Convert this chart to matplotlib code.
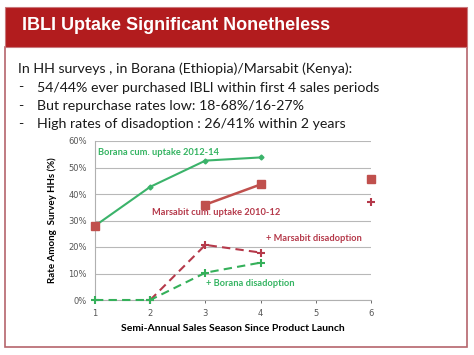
import matplotlib
matplotlib.use("Agg")
import matplotlib.pyplot as plt
import numpy as np
from matplotlib.patches import Rectangle
from matplotlib.ticker import PercentFormatter

# ---- data ----
seasons = [1, 2, 3, 4, 5, 6]
borana_uptake_x = [1, 2, 3, 4]
borana_uptake = [28, 42.7, 52.6, 53.8]
marsabit_uptake_x = [3, 4]
marsabit_uptake = [36, 43.6]
marsabit_extra_x = [1, 6]
marsabit_extra = [28, 45.8]
marsabit_dis_x = [2, 3, 4]
marsabit_dis = [0, 20.8, 17.9]
marsabit_dis_extra_x = [6]
marsabit_dis_extra = [37]
borana_dis_x = [1, 2, 3, 4]
borana_dis = [0, 0, 10.3, 14.1]
yticks = [0, 10, 20, 30, 40, 50, 60]

title = "IBLI Uptake Significant Nonetheless"
bullets = [
    "In HH surveys , in Borana (Ethiopia)/Marsabit (Kenya):",
    "54/44% ever purchased IBLI within first 4 sales periods",
    "But repurchase rates low: 18-68%/16-27%",
    "High rates of disadoption : 26/41% within 2 years",
]

W, H = 474, 355
fig = plt.figure(figsize=(W / 100, H / 100), dpi=100)
bg = fig.add_axes([0, 0, 1, 1])
bg.set_xlim(0, W)
bg.set_ylim(H, 0)
bg.axis("off")

red_bar = "#b21c1e"
border = "#b5656c"
bg.add_patch(Rectangle((5, 47), 462, 300, facecolor="white", edgecolor=border, lw=1.2))
bg.add_patch(Rectangle((5, 7), 462, 40, facecolor=red_bar, edgecolor="#c9787c", lw=0.8))
bg.text(22, 26, title, color="white", fontsize=13, fontweight="bold",
        family="Liberation Sans", va="center", ha="left")

text_font = "Lato"
tc = "#1a1a1a"
bg.text(18, 69, bullets[0], fontsize=10.2, family=text_font, va="center", color=tc)
for i, b in enumerate(bullets[1:]):
    y = 87.5 + i * 18.3
    bg.text(18, y, "-", fontsize=10.2, family=text_font, va="center", color=tc)
    bg.text(37, y, b, fontsize=10.2, family=text_font, va="center", color=tc)

# ---- chart ----
ax = fig.add_axes([95 / W, 55 / H, 276 / W, 159 / H])
green = "#3bb36a"
green_txt = "#35b462"
red = "#c0504d"
dred = "#b5394a"

ax.plot(borana_uptake_x, borana_uptake, color=green, lw=1.5, marker="D", ms=2.5, zorder=3,
        clip_on=False)
ax.plot(marsabit_uptake_x, marsabit_uptake, color=red, lw=1.8, marker="s", ms=5.5, zorder=3)
ax.plot(marsabit_extra_x, marsabit_extra, color=red, lw=0, marker="s", ms=5.5, zorder=4,
        clip_on=False)
ax.plot(marsabit_dis_x, marsabit_dis, color=dred, lw=1.5, ls=(0, (4, 2.5)), marker="+",
        ms=6, mew=1.5, zorder=3, clip_on=False)
ax.plot(marsabit_dis_extra_x, marsabit_dis_extra, color=dred, lw=0, marker="+", ms=6, mew=1.5,
        clip_on=False)
ax.plot(borana_dis_x, borana_dis, color="#35b05a", lw=1.5, ls=(0, (4, 2.5)), marker="+",
        ms=6, mew=1.5, zorder=3, clip_on=False)

ax.set_xlim(1, 6)
ax.set_ylim(0, 60)
ax.set_xticks(seasons)
ax.set_yticks(yticks)
ax.yaxis.set_major_formatter(PercentFormatter(decimals=0))
ax.grid(axis="y", color="#b8b8b8", lw=0.8)
ax.set_axisbelow(True)
for s in ["top", "right"]:
    ax.spines[s].set_visible(False)
ax.spines["left"].set_color("#b0b0b0")
ax.spines["bottom"].set_color("#b0b0b0")
ax.tick_params(axis="both", labelsize=6, colors="#555555", length=2.5, width=0.6)
ax.tick_params(axis="y", length=0, pad=6)
ax.tick_params(axis="x", pad=4)
ax.set_xlabel("Semi-Annual Sales Season Since Product Launch", fontsize=7.5,
              fontweight="bold", family="Lato", labelpad=4)
ax.set_ylabel("Rate Among  Survey HHs (%)", fontsize=7, fontweight="bold", family="Lato",
              labelpad=8)

lab_kw = dict(fontsize=6.7, fontweight="bold", family="Lato", va="center", ha="left")
ax.text(1.05, 55.8, "Borana cum. uptake 2012-14", color=green_txt, **lab_kw)
ax.text(2.04, 33.0, "Marsabit cum. uptake 2010-12", color=dred, **lab_kw)
ax.text(4.10, 23.1, "+ Marsabit disadoption", color=dred, **lab_kw)
ax.text(3.01, 6.4, "+ Borana disadoption", color=green_txt, **lab_kw)

fig.savefig("out.png", dpi=100)
